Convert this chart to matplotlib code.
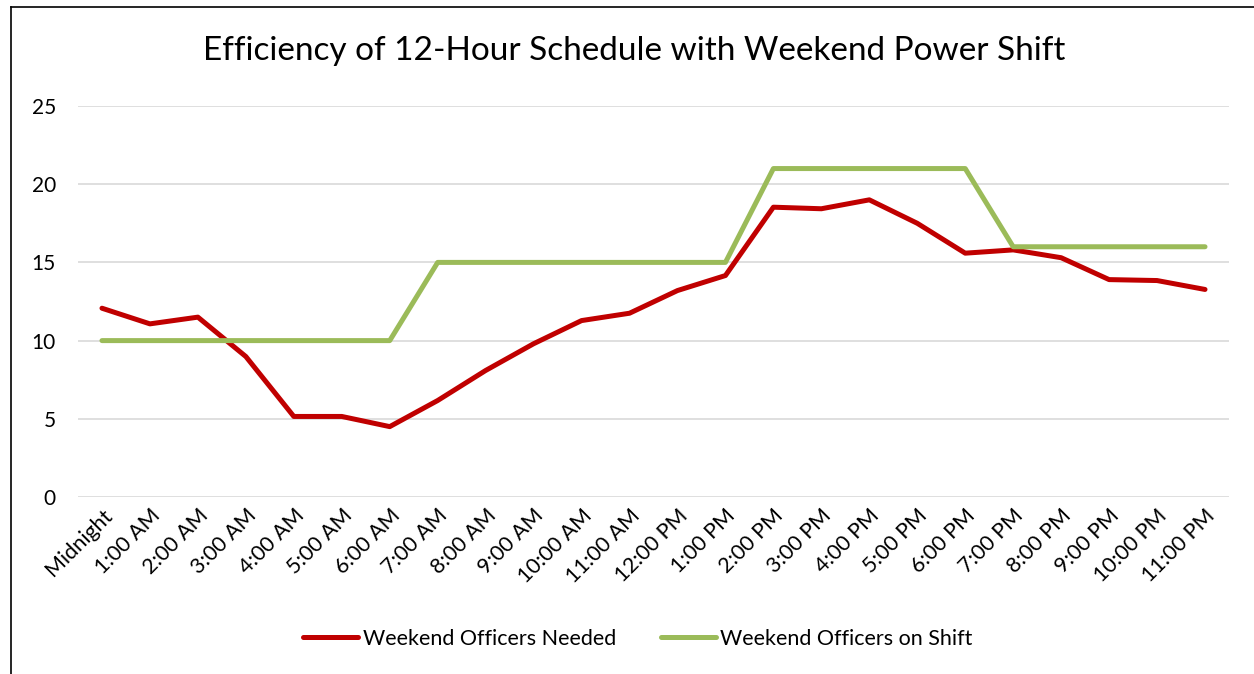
import matplotlib
matplotlib.use("Agg")
import matplotlib.pyplot as plt
from matplotlib.lines import Line2D

hours = ["Midnight", "1:00 AM", "2:00 AM", "3:00 AM", "4:00 AM", "5:00 AM", "6:00 AM",
         "7:00 AM", "8:00 AM", "9:00 AM", "10:00 AM", "11:00 AM", "12:00 PM",
         "1:00 PM", "2:00 PM", "3:00 PM", "4:00 PM", "5:00 PM", "6:00 PM",
         "7:00 PM", "8:00 PM", "9:00 PM", "10:00 PM", "11:00 PM"]
officers_needed = [12.07, 11.07, 11.5, 8.98, 5.15, 5.15, 4.5,
                   6.17, 8.09, 9.8, 11.28, 11.75, 13.2,
                   14.16, 18.53, 18.43, 19.0, 17.5, 15.59,
                   15.8, 15.3, 13.9, 13.84, 13.27]
officers_on_shift = [10, 10, 10, 10, 10, 10, 10,
                     15, 15, 15, 15, 15, 15,
                     15, 21, 21, 21, 21, 21,
                     16, 16, 16, 16, 16]
yticks = [0, 5, 10, 15, 20, 25]

plt.rcParams['font.family'] = ['Lato', 'DejaVu Sans']

fig = plt.figure(figsize=(12.54, 6.74), dpi=100)
ax = fig.add_axes([78/1254, 1-497/674, (1229-78)/1254, (497-106)/674])

x = list(range(len(hours)))
ax.plot(x, officers_needed, color='#C00000', lw=3.6, solid_capstyle='round',
        solid_joinstyle='round', label='Weekend Officers Needed', zorder=3)
ax.plot(x, officers_on_shift, color='#9BBB59', lw=3.6, solid_capstyle='round',
        solid_joinstyle='round', label='Weekend Officers on Shift', zorder=3)

ax.set_xlim(-0.5, len(hours) - 0.5)
ax.set_ylim(0, 25)
ax.set_yticks(yticks)
ax.set_yticklabels([str(v) for v in yticks], fontsize=15)
ax.yaxis.grid(True, color='#D9D9D9', lw=1.2)
ax.set_axisbelow(True)
for s in ax.spines.values():
    s.set_visible(False)
ax.tick_params(axis='y', length=0, pad=16)
ax.tick_params(axis='x', length=0, pad=6)
ax.set_xticks(x)
ax.set_xticklabels(hours, rotation=45, ha='right', rotation_mode='anchor', fontsize=15.5)

fig.text(634/1254, 1-51/674, "Efficiency of 12-Hour Schedule with Weekend Power Shift",
         ha='center', va='center', fontsize=24)

leg = fig.legend(loc='center', bbox_to_anchor=(638/1254, 1-639/674), ncol=2, frameon=False,
                 fontsize=15.5, handlelength=2.55, columnspacing=2.1, handletextpad=0.2)
for h in leg.get_lines():
    h.set_linewidth(3.6)

fig.add_artist(Line2D([11/1254, 11/1254], [0, 1-7/674], transform=fig.transFigure,
                      color='black', lw=1.2))
fig.add_artist(Line2D([11/1254, 1], [1-7/674, 1-7/674], transform=fig.transFigure,
                      color='black', lw=1.2))

fig.savefig("out.png", dpi=100, facecolor='white')
